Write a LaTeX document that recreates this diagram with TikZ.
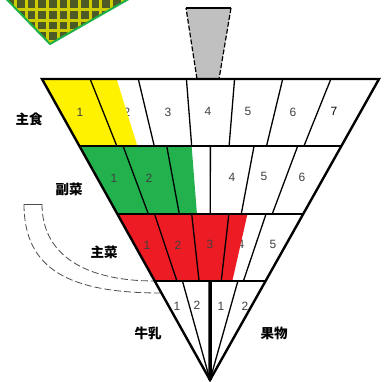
\documentclass[tikz,border=0pt]{standalone}
\usepackage{fontspec}
\setmainfont{Liberation Sans}
\newfontfamily\jpfont{Noto Sans CJK JP}
\usetikzlibrary{calc}
\definecolor{grainY}{HTML}{FFF200}
\definecolor{sideG}{HTML}{22B14C}
\definecolor{mainR}{HTML}{ED1C24}
\definecolor{chkD}{HTML}{4E5A26}
\definecolor{chkY}{HTML}{CDCD00}
\definecolor{chkG}{HTML}{1DB04A}
\definecolor{capG}{HTML}{C0C0C0}
\begin{document}
\begin{tikzpicture}[x=1pt,y=-1pt,
      num/.style={font=\fontsize{12}{12}\selectfont,text=black!75,inner sep=0pt},
      lbl/.style={font=\jpfont\bfseries\fontsize{13.5}{14}\selectfont,inner sep=0pt},
      edge/.style={line width=2.4pt},
      div/.style={line width=1.3pt},
      band/.style={draw=black!70,line width=0.8pt,dash pattern=on 7pt off 3pt}
    ]
      \clip (0,0) rectangle (387,381);

      % corners and row borders
      \coordinate (L0) at (42,79);
      \coordinate (R0) at (379,79);
      \coordinate (A) at (210,380);
      \coordinate (L1) at ($(L0)!0.2226!(A)$);
      \coordinate (R1) at ($(R0)!0.2226!(A)$);
      \coordinate (L2) at ($(L0)!0.4485!(A)$);
      \coordinate (R2) at ($(R0)!0.4485!(A)$);
      \coordinate (L3) at ($(L0)!0.671!(A)$);
      \coordinate (R3) at ($(R0)!0.671!(A)$);

      % checked corner
      \begin{scope}
        \clip (-12,-20) -- (162,-20) -- (50,44) -- cycle;
        \fill[chkD] (-12,-20) rectangle (162,44);
        \foreach \k in {-4,...,13} \draw[chkY,line width=3pt] ({26+10.7*\k},-20) -- ++(0,70);
        \foreach \k in {-3,...,4} \draw[chkY,line width=3pt] (-12,{9.3+10.7*\k}) -- ++(180,0);
      \end{scope}
      \draw[chkG,line width=2pt] (-12,-20) -- (50,44) -- (162,-20);

      % cap on top
      \coordinate (C1) at (186,8);
      \coordinate (C2) at (231,8);
      \coordinate (C3) at (219,79);
      \coordinate (C4) at (197,79);
      \fill[capG] (C1) -- (C2) -- (C3) -- (C4) -- cycle;
      \draw[line width=1.2pt] (C1) -- (C2);
      \draw[line width=1.2pt,dash pattern=on 5pt off 2pt] (C4) -- (C1);
      \draw[line width=1.2pt,dash pattern=on 5pt off 2pt] (C2) -- (C3);

      % full fills
      \fill[grainY] (L0) -- ($(L0)!1/7!(R0)$) -- ($(L1)!1/7!(R1)$) -- (L1) -- cycle;
      \fill[sideG] (L1) -- ($(L1)!2/6!(R1)$) -- ($(L2)!2/6!(R2)$) -- (L2) -- cycle;
      \fill[mainR] (L2) -- ($(L2)!3/5!(R2)$) -- ($(L3)!3/5!(R3)$) -- (L3) -- cycle;

      % row 1
      \node[num] (a1) at (80,112) {1};
      \node[num] (a2) at (127,112) {2};
      \node[num] (a3) at (168,112) {3};
      \node[num] (a4) at (208,111) {4};
      \node[num] (a5) at (248,111) {5};
      \node[num] (a6) at (293,112) {6};
      \node[num,text=black] (a7) at (334,111) {7};
      % row 2
      \node[num] (b1) at (114,178) {1};
      \node[num] (b2) at (149,178) {2};
      \node[num] (b3) at (184,178) {3};
      \node[num] (b4) at (232,177) {4};
      \node[num] (b5) at (264,176) {5};
      \node[num] (b6) at (302,177) {6};
      % row 3
      \node[num] (c1) at (147,245) {1};
      \node[num] (c2) at (178,245) {2};
      \node[num] (c3) at (210,244) {3};
      \node[num] (c4) at (241,244) {4};
      \node[num] (c5) at (273,244) {5};
      % row 4
      \node[num] (d1) at (177,306) {1};
      \node[num] (d2) at (197,305) {2};
      \node[num] (d3) at (221,306) {1};
      \node[num] (d4) at (245,306) {2};

      % part fills
      \fill[grainY] ($(L0)!1/7!(R0)$) -- ($(L0)!1.55/7!(R0)$) -- ($(L1)!1.55/7!(R1)$) -- ($(L1)!1/7!(R1)$) -- cycle;
      \fill[sideG] ($(L1)!2/6!(R1)$) -- ($(L1)!2.57/6!(R1)$) -- ($(L2)!2.57/6!(R2)$) -- ($(L2)!2/6!(R2)$) -- cycle;
      \fill[mainR] ($(L2)!3/5!(R2)$) -- ($(L2)!3.5/5!(R2)$) -- ($(L3)!3.5/5!(R3)$) -- ($(L3)!3/5!(R3)$) -- cycle;

      % curved band
      \coordinate (B1) at (24,204);
      \coordinate (B2) at (42,204);
      \coordinate (B3) at ($(L0)!0.711!(A)$);
      \draw[black!70,line width=0.8pt] (B1) -- (B2);
      \draw[band] (B1) .. controls (24,270) and (70,293) .. (B3);
      \draw[band] (B2) .. controls (42,255) and (85,281) .. (L3);

      % lines
      \foreach \i in {1,...,6} \draw[div] ($(L0)!\i/7!(R0)$) -- ($(L1)!\i/7!(R1)$);
      \foreach \i in {1,...,5} \draw[div] ($(L1)!\i/6!(R1)$) -- ($(L2)!\i/6!(R2)$);
      \foreach \i in {1,...,4} \draw[div] ($(L2)!\i/5!(R2)$) -- ($(L3)!\i/5!(R3)$);
      \draw[div] ($(L3)!0.25!(R3)$) -- (A);
      \draw[div] ($(L3)!0.75!(R3)$) -- (A);
      \draw[line width=3.5pt] ($(L3)!0.5!(R3)$) -- (A);
      \draw[edge] (L1) -- (R1);
      \draw[edge] (L2) -- (R2);
      \draw[edge] (L3) -- (R3);
      \draw[edge,line join=miter] (L0) -- (R0) -- (A) -- cycle;

      % labels
      \node[lbl] (staple) at (29,119) {主食};
      \node[lbl] (side) at (69,189) {副菜};
      \node[lbl] (main) at (104,252) {主菜};
      \node[lbl] (milk) at (148,333) {牛乳};
      \node[lbl] (fruit) at (274,333) {果物};
    \end{tikzpicture}
\end{document}
